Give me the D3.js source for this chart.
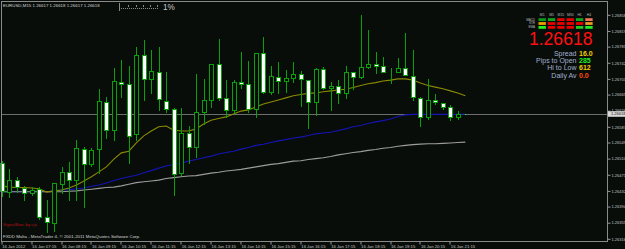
<!DOCTYPE html>
<html>
<head>
<meta charset="utf-8">
<script src="https://cdn.jsdelivr.net/npm/d3@7"></script>
<style>
  html, body { margin: 0; padding: 0; background: #090d0a; }
  svg { display: block; font-family: "Liberation Sans", Arial, sans-serif; }
</style>
</head>
<body>
<div id="chart"></div>
<script>
// EURUSD M15, 16 Jan 2012 06:15 .. 21:45 (63 bars)
const opens = [
  1.26499, 1.26429, 1.26458, 1.26439, 1.26427, 1.26437, 1.26369, 1.26354, 1.26449, 1.26478,
  1.26458, 1.26533, 1.26497, 1.26533, 1.26647, 1.26579, 1.26695, 1.26691, 1.26570, 1.26761,
  1.26703, 1.26720, 1.26650, 1.26630, 1.26475, 1.26572, 1.26538, 1.26623, 1.26652, 1.26739,
  1.26657, 1.26628, 1.26695, 1.26691, 1.26630, 1.26766, 1.26671, 1.26708, 1.26698, 1.26705,
  1.26715, 1.26700, 1.26647, 1.26727, 1.26681, 1.26686, 1.26669, 1.26720, 1.26708, 1.26732,
  1.26739, 1.26734, 1.26722, 1.26720, 1.26729, 1.26710, 1.26657, 1.26611, 1.26652, 1.26645,
  1.26635, 1.26611, 1.26617,
];
const highs = [
  1.26504, 1.26485, 1.26466, 1.26444, 1.26441, 1.26441, 1.26410, 1.26451, 1.26490, 1.26502,
  1.26555, 1.26538, 1.26536, 1.26679, 1.26659, 1.26729, 1.26749, 1.26734, 1.26780, 1.26797,
  1.26773, 1.26780, 1.26720, 1.26633, 1.26633, 1.26589, 1.26715, 1.26703, 1.26739, 1.26800,
  1.26700, 1.26700, 1.26768, 1.26746, 1.26766, 1.26804, 1.26734, 1.26744, 1.26725, 1.26744,
  1.26722, 1.26700, 1.26729, 1.26732, 1.26695, 1.26700, 1.26734, 1.26720, 1.26858, 1.26821,
  1.26768, 1.26756, 1.26729, 1.26754, 1.26814, 1.26773, 1.26659, 1.26703, 1.26666, 1.26645,
  1.26640, 1.26625, 1.26618,
];
const lows = [
  1.26420, 1.26417, 1.26429, 1.26410, 1.26422, 1.26364, 1.26332, 1.26335, 1.26427, 1.26410,
  1.26410, 1.26393, 1.26492, 1.26475, 1.26560, 1.26555, 1.26659, 1.26499, 1.26555, 1.26652,
  1.26669, 1.26628, 1.26623, 1.26422, 1.26470, 1.26499, 1.26514, 1.26594, 1.26635, 1.26652,
  1.26611, 1.26620, 1.26681, 1.26623, 1.26611, 1.26669, 1.26666, 1.26669, 1.26671, 1.26695,
  1.26637, 1.26584, 1.26616, 1.26679, 1.26628, 1.26645, 1.26657, 1.26679, 1.26705, 1.26729,
  1.26717, 1.26720, 1.26693, 1.26720, 1.26712, 1.26652, 1.26589, 1.26606, 1.26642, 1.26630,
  1.26603, 1.26606, 1.26617,
];
const closes = [
  1.26432, 1.26458, 1.26441, 1.26427, 1.26434, 1.26369, 1.26357, 1.26451, 1.26478, 1.26458,
  1.26536, 1.26497, 1.26531, 1.26650, 1.26579, 1.26698, 1.26691, 1.26565, 1.26761, 1.26703,
  1.26722, 1.26654, 1.26630, 1.26473, 1.26572, 1.26538, 1.26623, 1.26652, 1.26739, 1.26657,
  1.26628, 1.26695, 1.26691, 1.26630, 1.26766, 1.26671, 1.26710, 1.26698, 1.26705, 1.26715,
  1.26703, 1.26647, 1.26727, 1.26681, 1.26686, 1.26669, 1.26720, 1.26708, 1.26732, 1.26739,
  1.26734, 1.26720, 1.26722, 1.26729, 1.26712, 1.26659, 1.26611, 1.26652, 1.26647, 1.26635,
  1.26611, 1.26618, 1.26618,
];

// moving averages (olive fast, blue mid, gray slow)
const maFast = [
  1.26444, 1.26441, 1.26440, 1.26440, 1.26439, 1.26437, 1.26429, 1.26432, 1.26434, 1.26439,
  1.26446, 1.26456, 1.26466, 1.26478, 1.26490, 1.26509, 1.26524, 1.26528, 1.26548, 1.26565,
  1.26577, 1.26587, 1.26589, 1.26579, 1.26577, 1.26577, 1.26582, 1.26594, 1.26603, 1.26607,
  1.26611, 1.26618, 1.26625, 1.26628, 1.26635, 1.26642, 1.26647, 1.26652, 1.26657, 1.26662,
  1.26665, 1.26668, 1.26669, 1.26672, 1.26674, 1.26676, 1.26678, 1.26682, 1.26687, 1.26691,
  1.26694, 1.26698, 1.26700, 1.26703, 1.26703, 1.26700, 1.26693, 1.26687, 1.26683, 1.26679,
  1.26674, 1.26669, 1.26662,
];
const maMid = [
  1.26430, 1.26430, 1.26430, 1.26430, 1.26430, 1.26430, 1.26430, 1.26432, 1.26434, 1.26435,
  1.26437, 1.26439, 1.26443, 1.26446, 1.26451, 1.26457, 1.26462, 1.26466, 1.26470, 1.26476,
  1.26481, 1.26487, 1.26492, 1.26496, 1.26499, 1.26504, 1.26508, 1.26512, 1.26516, 1.26521,
  1.26525, 1.26528, 1.26533, 1.26537, 1.26542, 1.26545, 1.26549, 1.26553, 1.26556, 1.26560,
  1.26562, 1.26566, 1.26570, 1.26572, 1.26574, 1.26578, 1.26582, 1.26587, 1.26590, 1.26595,
  1.26599, 1.26602, 1.26606, 1.26612, 1.26616, 1.26617, 1.26617, 1.26617, 1.26617, 1.26617,
  1.26617, 1.26617, 1.26618,
];
const maSlow = [
  1.26430, 1.26430, 1.26430, 1.26430, 1.26430, 1.26430, 1.26430, 1.26430, 1.26430, 1.26431,
  1.26432, 1.26434, 1.26436, 1.26438, 1.26440, 1.26441, 1.26444, 1.26448, 1.26452, 1.26454,
  1.26456, 1.26458, 1.26462, 1.26464, 1.26466, 1.26468, 1.26469, 1.26472, 1.26475, 1.26477,
  1.26480, 1.26482, 1.26484, 1.26487, 1.26490, 1.26493, 1.26496, 1.26498, 1.26501, 1.26504,
  1.26505, 1.26508, 1.26510, 1.26512, 1.26515, 1.26519, 1.26522, 1.26525, 1.26527, 1.26530,
  1.26532, 1.26535, 1.26537, 1.26540, 1.26542, 1.26544, 1.26545, 1.26546, 1.26546, 1.26547,
  1.26548, 1.26549, 1.26550,
];

const timeTickBars = [0, 4, 8, 12, 16, 20, 24, 28, 32, 36, 40, 44, 48, 52, 56, 60];
const timeTickLabels = [
  "16 Jan 2012", "16 Jan 07:15", "16 Jan 08:15", "16 Jan 09:15", "16 Jan 10:15", "16 Jan 11:15",
  "16 Jan 12:15", "16 Jan 13:15", "16 Jan 14:15", "16 Jan 15:15", "16 Jan 16:15", "16 Jan 17:15",
  "16 Jan 18:15", "16 Jan 19:15", "16 Jan 20:15", "16 Jan 21:15",
];
const priceTicks = [
  1.26858, 1.26819, 1.26781, 1.26742, 1.26703, 1.26665, 1.26626, 1.26587,
  1.26549, 1.26510, 1.26471, 1.26432, 1.26394, 1.26355, 1.26316,
];
const bidPrice = 1.26618;

// signal panel
const panelCols = ["M1", "M5", "M15", "M30", "H1", "H4"];
const panelRows = ["MACD", "STR", "EMA"];
const panelSignals = [
  ["#0a9a1a", "#12a81e", "#e80000", "#e80000", "#12a81e", "#f2735a"],
  ["#e8a000", "#e80000", "#e80000", "#e80000", "#e80000", "#f09a20"],
  ["#22ee22", "#e80000", "#e80000", "#e80000", "#22cc22", "#22ee22"],
];
const infoLabels = ["Spread", "Pips to Open", "Hi to Low", "Daily Av"];
const infoValues = ["16.0", "285", "612", "0.0"];
const infoColors = ["#f0d000", "#22ee22", "#f0d000", "#ff4a10"];

// ── Layout ──────────────────────────────────────────────────────────────────
const W = 625, H = 249;
const FRAME = { left: 1.5, top: 1.5, right: 607.5, bottom: 241.5 };
const BODY_W = 4; // + 1px stroke
const BULL = "#0aa00a";
const AXIS_TXT = "#c4c4c4";
const fmt5 = d3.format(".5f");

const x = d3.scaleLinear().domain([0, opens.length - 1]).range([1.7, 465.3]);
const y = d3.scaleLinear().domain([1.263107, 1.26889]).range([241, 2]);
const px = (i) => Math.round(x(i)) + 0.5;

const bars = opens.map((o, i) => ({
  i, o, h: highs[i], l: lows[i], c: closes[i],
}));

const svg = d3.select("#chart").append("svg")
  .attr("width", W).attr("height", H);

svg.append("rect").attr("width", W).attr("height", H).attr("fill", "#090d0a");

// bid line
svg.append("line")
  .attr("x1", FRAME.left).attr("x2", FRAME.right)
  .attr("y1", Math.round(y(bidPrice)) + 0.5).attr("y2", Math.round(y(bidPrice)) + 0.5)
  .attr("stroke", "#6e6e6e").attr("stroke-width", 1);

// moving averages
const line = d3.line().x((d, i) => x(i)).y((d) => y(d));
[[maMid, "#1414b4"], [maSlow, "#9c9c9c"], [maFast, "#8a8a00"]].forEach(([vals, col]) => {
  svg.append("path")
    .datum(vals)
    .attr("d", line)
    .attr("fill", "none")
    .attr("stroke", col)
    .attr("stroke-width", 1.1);
});

// candles
const cg = svg.append("g").attr("shape-rendering", "crispEdges");
const last = bars.length - 1;

cg.selectAll("line.wick")
  .data(bars)
  .join("line")
  .attr("class", "wick")
  .attr("x1", (d) => px(d.i)).attr("x2", (d) => px(d.i))
  .attr("y1", (d) => Math.round(y(d.h)))
  .attr("y2", (d) => Math.round(y(d.l)) + 1)
  .attr("stroke", (d) => (d.i === last ? "#22ff22" : BULL));

cg.selectAll("rect.body")
  .data(bars)
  .join("rect")
  .attr("class", "body")
  .attr("x", (d) => px(d.i) - BODY_W / 2)
  .attr("y", (d) => Math.round(y(Math.max(d.o, d.c))) + 0.5)
  .attr("width", BODY_W)
  .attr("height", (d) => Math.max(0, Math.round(Math.abs(y(d.o) - y(d.c)))))
  .attr("fill", (d) => (d.c < d.o ? "#ffffff" : "#090d0a"))
  .attr("stroke", (d) => (d.i === last ? "#22ff22" : BULL))
  .attr("stroke-width", 1);

// frame
svg.append("rect")
  .attr("x", FRAME.left).attr("y", FRAME.top)
  .attr("width", FRAME.right - FRAME.left)
  .attr("height", FRAME.bottom - FRAME.top)
  .attr("fill", "none")
  .attr("stroke", "#8a8a8a");

// time axis
const xAxis = d3.axisBottom(x)
  .tickValues(timeTickBars)
  .tickFormat((d, k) => timeTickLabels[k])
  .tickSize(3)
  .tickSizeOuter(0);
const gx = svg.append("g")
  .attr("transform", `translate(0,${FRAME.bottom})`)
  .call(xAxis);
gx.select(".domain").remove();
gx.selectAll(".tick line").attr("stroke", "#9a9a9a")
  .attr("transform", (d) => `translate(${px(d) - x(d) - 1},0)`);
gx.selectAll(".tick text")
  .attr("text-anchor", "start")
  .attr("x", 0).attr("y", 3.2).attr("dy", "0.71em")
  .style("font-size", "4.2px")
  .attr("fill", AXIS_TXT);

// price axis
const yAxis = d3.axisRight(y)
  .tickValues(priceTicks)
  .tickFormat(fmt5)
  .tickSize(3)
  .tickSizeOuter(0);
const gy = svg.append("g")
  .attr("transform", `translate(${FRAME.right},0)`)
  .call(yAxis);
gy.select(".domain").remove();
gy.selectAll(".tick line").attr("stroke", "#9a9a9a");
gy.selectAll(".tick text")
  .attr("x", 4)
  .style("font-size", "4px")
  .attr("fill", AXIS_TXT);

// bid label box
const by = y(bidPrice);
svg.append("rect")
  .attr("x", FRAME.right + 0.5).attr("y", by - 2.8)
  .attr("width", 18).attr("height", 5.6)
  .attr("fill", "#d8d8d8");
svg.append("text")
  .attr("x", FRAME.right + 3.5).attr("y", by)
  .attr("dy", "0.35em")
  .style("font-size", "4px")
  .attr("fill", "#111")
  .text(fmt5(bidPrice));

// header
svg.append("text")
  .attr("x", 3).attr("y", 6.6)
  .style("font-size", "4.4px")
  .attr("fill", "#d4d4d4")
  .text(`EURUSD,M15  ${fmt5(opens[last])} ${fmt5(highs[last])} ${fmt5(lows[last])} ${fmt5(closes[last])}`);

// little progress ruler + "1%"
const rg = svg.append("g").attr("stroke", "#8a8a8a").attr("shape-rendering", "crispEdges");
rg.append("line").attr("x1", 119.5).attr("x2", 119.5).attr("y1", 3).attr("y2", 11);
rg.append("line").attr("x1", 121).attr("x2", 158).attr("y1", 8.5).attr("y2", 8.5)
  .attr("stroke-dasharray", "1,1");
[128, 136, 143, 150, 157].forEach((t) => {
  rg.append("line").attr("x1", t + 0.5).attr("x2", t + 0.5).attr("y1", 4.5).attr("y2", 7);
});
svg.append("text")
  .attr("x", 163).attr("y", 9.6)
  .style("font-size", "8.2px")
  .attr("fill", "#c8c8c8")
  .text("1%");

// signal panel
const COL_X0 = 538.5, COL_STEP = 9.35, ROW_Y0 = 18.2, ROW_STEP = 3.9;
panelCols.forEach((c, j) => {
  svg.append("text")
    .attr("x", COL_X0 + j * COL_STEP + 3.7).attr("y", 16.4)
    .attr("text-anchor", "middle")
    .style("font-size", "3.4px")
    .attr("fill", "#b8b8b8")
    .text(c);
});
panelRows.forEach((r, k) => {
  svg.append("text")
    .attr("x", 535).attr("y", ROW_Y0 + k * ROW_STEP + 2.3)
    .attr("text-anchor", "end")
    .style("font-size", "3px")
    .attr("fill", "#b8b8b8")
    .text(r);
  panelSignals[k].forEach((col, j) => {
    svg.append("rect")
      .attr("x", COL_X0 + j * COL_STEP).attr("y", ROW_Y0 + k * ROW_STEP)
      .attr("width", 7.4).attr("height", 2.8)
      .attr("fill", col);
  });
});

svg.append("text")
  .attr("x", 592.5).attr("y", 45.2)
  .attr("text-anchor", "end")
  .style("font-size", "17.6px")
  .attr("fill", "#ff1010")
  .text(fmt5(closes[last]));

infoLabels.forEach((lab, k) => {
  const ty = 55.6 + k * 7.3;
  svg.append("text")
    .attr("x", 576.5).attr("y", ty)
    .attr("text-anchor", "end")
    .style("font-size", "7px")
    .attr("fill", "#a3aed0")
    .text(lab);
  svg.append("text")
    .attr("x", 579).attr("y", ty)
    .style("font-size", "7px")
    .style("font-weight", "bold")
    .attr("fill", infoColors[k])
    .text(infoValues[k]);
});

// footer texts
svg.append("text")
  .attr("x", 3).attr("y", 226.2)
  .style("font-size", "4.4px")
  .attr("fill", "#b01010")
  .text("SignalBars by cja");
svg.append("text")
  .attr("x", 3).attr("y", 238.4)
  .style("font-size", "4.4px")
  .attr("fill", "#d4d4d4")
  .text("FXDD Malta - MetaTrader 4, © 2001-2011 MetaQuotes Software Corp.");
</script>
</body>
</html>
